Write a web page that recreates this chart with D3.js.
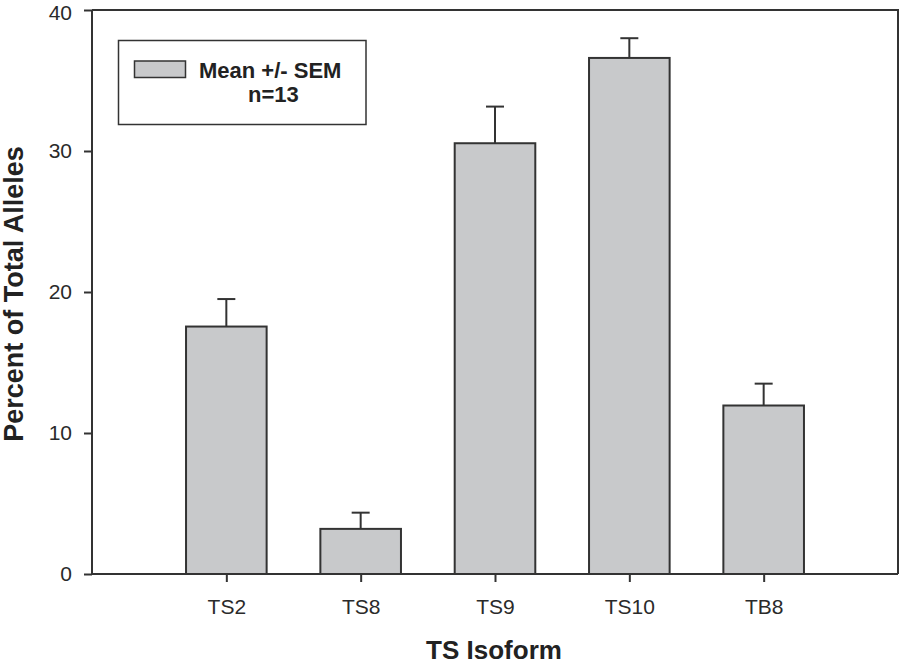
<!DOCTYPE html>
<html>
<head>
<meta charset="utf-8">
<script src="https://cdn.jsdelivr.net/npm/d3@7"></script>
<style>
  html, body { margin: 0; padding: 0; background: #fff; }
  #chart { width: 900px; height: 665px; }
  text { font-family: Arial, "Liberation Sans", sans-serif; }
</style>
</head>
<body>
<div id="chart"></div>
<script>
// Percent of total alleles by TS isoform (mean +/- SEM)
const isoforms = ["TS2", "TS8", "TS9", "TS10", "TB8"];
const means = [17.55, 3.2, 30.55, 36.6, 11.95];
const sems = [1.95, 1.15, 2.6, 1.4, 1.55];
const yTicks = [0, 10, 20, 30, 40];

(() => {
    const W = 900, H = 665;
    const m = { top: 10, right: 2, bottom: 91, left: 92 };
    const w = W - m.left - m.right;
    const h = H - m.top - m.bottom;
    const ink = "#333";

    const svg = d3.select("#chart").append("svg").attr("width", W).attr("height", H);
    const g = svg.append("g").attr("transform", `translate(${m.left},${m.top})`);

    const data = isoforms.map((k, i) => ({ k, mean: means[i], sem: sems[i] }));

    const x = d3.scalePoint().domain(isoforms).range([0, w]).padding(1);
    const y = d3.scaleLinear().domain([0, 40]).range([h, 0]);
    const bw = x.step() * 0.6;

    // frame (top + right)
    g.append("path")
        .attr("d", `M0,0H${w}V${h}`)
        .attr("fill", "none").attr("stroke", ink).attr("stroke-width", 2);

    // bars
    g.selectAll("rect.bar")
        .data(data)
        .join("rect")
        .attr("class", "bar")
        .attr("x", d => x(d.k) - bw / 2)
        .attr("y", d => y(d.mean))
        .attr("width", bw)
        .attr("height", d => h - y(d.mean))
        .attr("fill", "#c8c9cb")
        .attr("stroke", ink)
        .attr("stroke-width", 2);

    // error bars (upper only)
    const eb = g.selectAll("g.err").data(data).join("g").attr("class", "err")
        .attr("stroke", ink).attr("stroke-width", 2);
    eb.append("line")
        .attr("x1", d => x(d.k)).attr("x2", d => x(d.k))
        .attr("y1", d => y(d.mean)).attr("y2", d => y(d.mean + d.sem));
    eb.append("line")
        .attr("x1", d => x(d.k) - 9).attr("x2", d => x(d.k) + 9)
        .attr("y1", d => y(d.mean + d.sem)).attr("y2", d => y(d.mean + d.sem));

    // axes
    const styleAxis = (sel) => {
        sel.select(".domain").attr("stroke", ink).attr("stroke-width", 2);
        sel.selectAll(".tick line").attr("stroke", ink).attr("stroke-width", 2);
        sel.selectAll(".tick text").attr("fill", "#2a2a2a").style("font-size", "21px");
    };

    g.append("g")
        .attr("transform", `translate(0,${h})`)
        .call(d3.axisBottom(x).tickSizeInner(8).tickSizeOuter(0).tickPadding(17))
        .call(styleAxis)
        .call(s => s.select(".domain").attr("d", `M0,0H${w}`));

    g.append("g")
        .call(d3.axisLeft(y).tickValues(yTicks).tickSizeInner(8).tickSizeOuter(0).tickPadding(12))
        .call(styleAxis)
        .call(s => s.select(".domain").attr("d", `M0,0V${h}`))
        .call(s => s.selectAll(".tick text").filter(d => d === 40).attr("dy", "0.45em"));

    // axis titles
    svg.append("text")
        .attr("transform", `translate(23,294) rotate(-90)`)
        .attr("text-anchor", "middle")
        .style("font-size", "27px").style("font-weight", "bold").attr("fill", "#222")
        .text("Percent of Total Alleles");

    svg.append("text")
        .attr("x", 494).attr("y", 659)
        .attr("text-anchor", "middle")
        .style("font-size", "26px").style("font-weight", "bold").attr("fill", "#222")
        .text("TS Isoform");

    // legend
    const lg = svg.append("g");
    lg.append("rect")
        .attr("x", 118.5).attr("y", 40.5).attr("width", 247.5).attr("height", 84)
        .attr("fill", "#fff").attr("stroke", ink).attr("stroke-width", 1.5);
    lg.append("rect")
        .attr("x", 134.5).attr("y", 61).attr("width", 51).attr("height", 16.5)
        .attr("fill", "#c8c9cb").attr("stroke", ink).attr("stroke-width", 1.5);
    lg.append("text")
        .attr("x", 199).attr("y", 78)
        .style("font-size", "22px").style("font-weight", "bold").attr("fill", "#222")
        .text("Mean +/- SEM");
    lg.append("text")
        .attr("x", 248).attr("y", 102)
        .style("font-size", "22px").style("font-weight", "bold").attr("fill", "#222")
        .text("n=13");
})();
</script>
</body>
</html>
